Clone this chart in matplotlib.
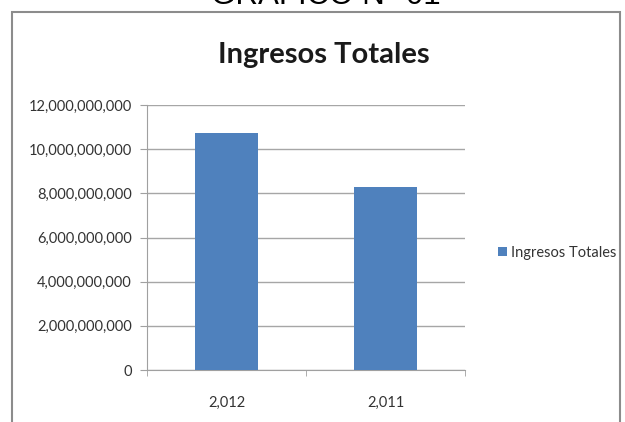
import matplotlib
matplotlib.use("Agg")
import matplotlib.pyplot as plt
from matplotlib.patches import Rectangle
from matplotlib.ticker import FuncFormatter

categories = ["2,012", "2,011"]
values = [10.72e9, 8.30e9]
series_name = "Ingresos Totales"
title = "Ingresos Totales"
yticks = [0, 2e9, 4e9, 6e9, 8e9, 10e9, 12e9]

fig = plt.figure(figsize=(6.25, 4.22), dpi=100)
fig.patch.set_facecolor("white")

# outer frame of the chart
fig.patches.append(Rectangle((12/625, -0.01), (620-12)/625, 1 - 12/422 + 0.01,
                             transform=fig.transFigure, fill=False,
                             edgecolor="#8c8c8c", linewidth=1.5))

# cut-off heading above the frame
fig.text(325.5/625, 1 - 4/422, "GRÁFICO N° 01", ha="center", va="baseline",
         fontsize=22.5, family="Liberation Sans", color="black")

ax = fig.add_axes([147/625, 1 - 370/422, (465-147)/625, (370-105)/422])
x = list(range(len(categories)))
bars = ax.bar(x, values, width=0.39, color="#4F81BD", label=series_name, zorder=3)
ax.set_xlim(-0.5, len(categories) - 0.5)
ax.set_ylim(0, 12e9)
ax.set_yticks(yticks)
ax.yaxis.set_major_formatter(FuncFormatter(lambda v, p: f"{int(v):,}"))
ax.set_xticks(x)
ax.set_xticklabels(categories)
ax.set_xticks([-0.5, 0.5, 1.5], minor=True)
ax.tick_params(axis="x", which="major", length=0, pad=24)
ax.tick_params(axis="x", which="minor", length=4, color="#a0a0a0")
ax.tick_params(axis="y", length=5, color="#a0a0a0", pad=6)
for lab in ax.get_xticklabels() + ax.get_yticklabels():
    lab.set_family("Lato")
    lab.set_fontsize(10.5)
    lab.set_color("#333333")
for lab in ax.get_xticklabels():
    lab.set_va("center")
ax.grid(axis="y", color="#a6a6a6", linewidth=1, zorder=0)
for s in ["top", "right"]:
    ax.spines[s].set_visible(False)
ax.spines["left"].set_color("#a0a0a0")
ax.spines["bottom"].set_color("#a0a0a0")

fig.text(324/625, 1 - 55/422, title, ha="center", va="center",
         fontsize=21, fontweight="bold", family="Lato", color="#1a1a1a")

leg = fig.legend(handles=[bars], labels=[series_name], loc="center left",
                 bbox_to_anchor=(485/625, 1 - 253/422), frameon=False,
                 handlelength=0.6, handleheight=0.6, handletextpad=0.3,
                 prop={"family": "Lato", "size": 10.5})
for t in leg.get_texts():
    t.set_color("#333333")

fig.savefig("out.png", dpi=100, facecolor="white")
